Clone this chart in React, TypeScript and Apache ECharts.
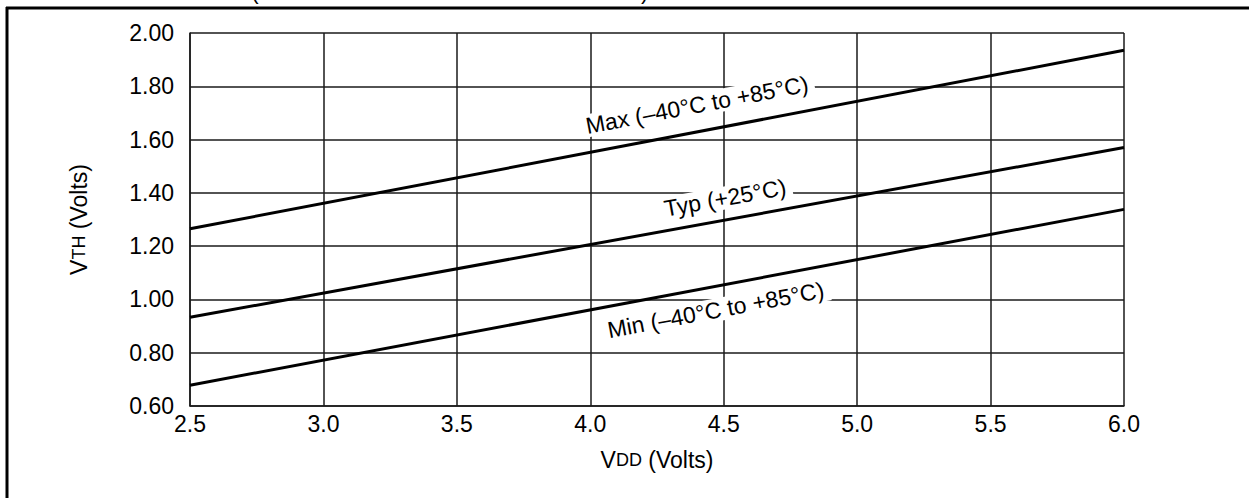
import React, { useEffect, useRef } from "react";
import * as echarts from "echarts";

const vddRange: number[] = [2.5, 6.0];
const vthMax: number[] = [1.265, 1.935];
const vthTyp: number[] = [0.933, 1.57];
const vthMin: number[] = [0.678, 1.338];
const seriesNames: string[] = ["Max (–40°C to +85°C)", "Typ (+25°C)", "Min (–40°C to +85°C)"];
// label anchor (data coordinates) for each curve annotation
const labelAnchorX: number[] = [4.4, 4.505, 4.47];
const labelAnchorY: number[] = [1.73, 1.381, 0.96];

const FONT = "'Liberation Sans', Arial, Helvetica, sans-serif";
const FS = 23;

export default function App() {
  const ref = useRef<HTMLDivElement>(null);
  useEffect(() => {
    if (!ref.current) return;
    const chart = echarts.init(ref.current, null, { renderer: "svg" });
    const allSeries = [vthMax, vthTyp, vthMin];
    const option: any = {
      animation: false,
      backgroundColor: "#ffffff",
      textStyle: { fontFamily: FONT },
      grid: { left: 190, right: 125, top: 33, bottom: 92, containLabel: false },
      xAxis: {
        type: "value",
        min: 2.5,
        max: 6.0,
        interval: 0.5,
        axisLine: { show: true, lineStyle: { color: "#1a1a1a", width: 1.5 } },
        axisTick: { show: false },
        splitLine: { show: true, lineStyle: { color: "#1a1a1a", width: 1.5 } },
        axisLabel: {
          color: "#000",
          fontSize: FS,
          fontFamily: FONT,
          margin: 6,
          formatter: (v: number) => v.toFixed(1),
        },
        name: "{a|V}{b|DD}{a| (Volts)}",
        nameLocation: "middle",
        nameGap: 42,
        nameTextStyle: {
          rich: {
            a: { fontSize: FS, fontFamily: FONT, color: "#000" },
            b: { fontSize: 18, fontFamily: FONT, color: "#000" },
          },
        },
      },
      yAxis: {
        type: "value",
        min: 0.6,
        max: 2.0,
        interval: 0.2,
        axisLine: { show: true, lineStyle: { color: "#1a1a1a", width: 1.5 } },
        axisTick: { show: false },
        splitLine: { show: true, lineStyle: { color: "#1a1a1a", width: 1.5 } },
        axisLabel: {
          color: "#000",
          fontSize: FS,
          fontFamily: FONT,
          margin: 16,
          formatter: (v: number) => v.toFixed(2),
        },
        name: "{a|V}{b|TH}{a| (Volts)}",
        nameLocation: "middle",
        nameRotate: 90,
        nameGap: 100,
        nameTextStyle: {
          rich: {
            a: { fontSize: FS, fontFamily: FONT, color: "#000" },
            b: { fontSize: 18, fontFamily: FONT, color: "#000" },
          },
        },
      },
      series: allSeries.map((vals, i) => ({
        type: "line",
        name: seriesNames[i],
        data: vddRange.map((x, j) => [x, vals[j]]),
        showSymbol: false,
        symbol: "none",
        lineStyle: { color: "#000", width: 3 },
        z: 3,
      })),
    };
    chart.setOption(option);

    const texts: any[] = allSeries.map((vals, i) => {
      const p0 = chart.convertToPixel({ gridIndex: 0 }, [vddRange[0], vals[0]]) as number[];
      const p1 = chart.convertToPixel({ gridIndex: 0 }, [vddRange[1], vals[1]]) as number[];
      const angle = Math.atan2(p0[1] - p1[1], p1[0] - p0[0]);
      const c = chart.convertToPixel({ gridIndex: 0 }, [labelAnchorX[i], labelAnchorY[i]]) as number[];
      return {
        type: "text",
        x: c[0],
        y: c[1],
        rotation: angle,
        z: 10,
        style: {
          text: seriesNames[i],
          fontSize: FS,
          fontFamily: FONT,
          fill: "#000",
          align: "center",
          verticalAlign: "middle",
          backgroundColor: "#ffffff",
          padding: [0, 6, 0, 6],
        },
      };
    });

    chart.setOption({
      graphic: [
        {
          type: "line",
          shape: { x1: 6, y1: 8, x2: 1249, y2: 8 },
          style: { stroke: "#000", lineWidth: 3 },
          z: 20,
        },
        {
          type: "line",
          shape: { x1: 7, y1: 7, x2: 7, y2: 498 },
          style: { stroke: "#000", lineWidth: 3 },
          z: 20,
        },
        {
          type: "text",
          x: 251,
          y: 2,
          style: { text: "(", fontSize: FS, fontFamily: FONT, fill: "#000", verticalAlign: "bottom" },
          z: 20,
        },
        {
          type: "text",
          x: 641,
          y: 2,
          style: { text: ")", fontSize: FS, fontFamily: FONT, fill: "#000", verticalAlign: "bottom" },
          z: 20,
        },
        ...texts,
      ],
    });

    return () => chart.dispose();
  }, []);
  return (
    <div
      ref={ref}
      style={{ position: "fixed", left: 0, top: 0, width: 1249, height: 498, background: "#fff" }}
    />
  );
}
